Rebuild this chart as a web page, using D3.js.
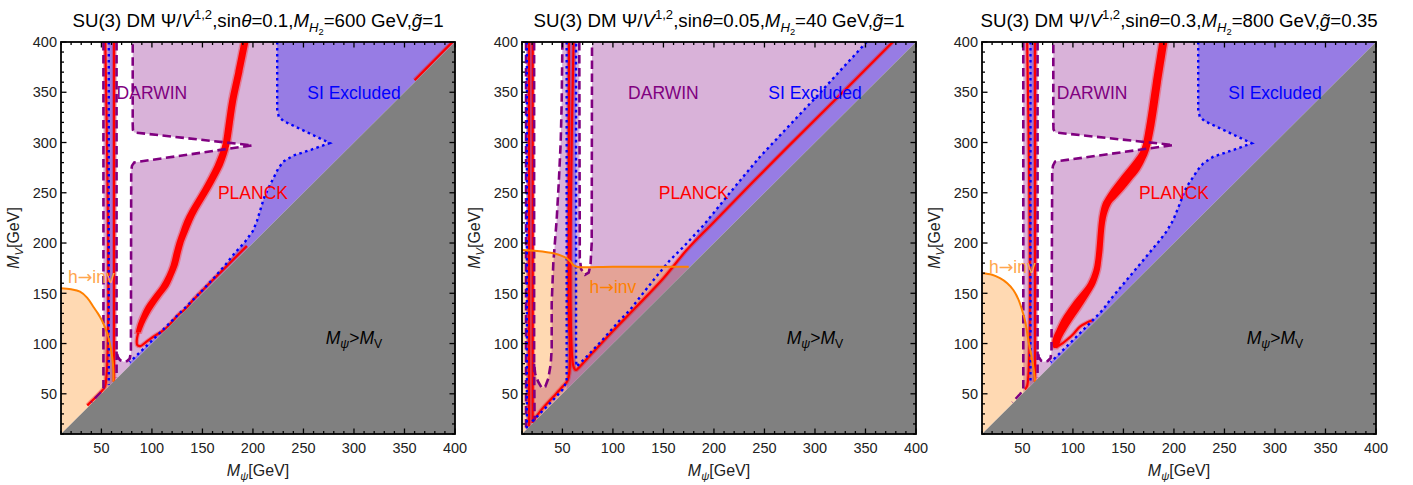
<!DOCTYPE html>
<html>
<head>
<meta charset="utf-8">
<script src="https://cdn.jsdelivr.net/npm/d3@7"></script>
<style>
  body { margin: 0; background: #fff; }
  svg { display: block; }
  text { font-family: "Liberation Sans", Arial, sans-serif; }
</style>
</head>
<body>
<svg id="chart" width="1413" height="485"></svg>
<script>
// ---- data (GeV) ----
const massRange = [10, 400];
const majorTicks = [50, 100, 150, 200, 250, 300, 350, 400];

const sinTheta = ['0.1', '0.05', '0.3'];
const mH2 = ['600', '40', '800'];
const gTilde = ['1', '1', '0.35'];

// panel 1: sin=0.1, MH2=600, g=1
const darwinArea1 = [[52, 400], [52, 10], [400, 10], [400, 400]];
const darwinHole1 = [[65, 400], [65, 92], [66.3, 86.5], [68.5, 83.5], [72, 82], [75.5, 82.6], [78, 85], [79.2, 91], [79.5, 272], [80.3, 277], [82.5, 280.2], [199.3, 297.2], [82.5, 310], [81.2, 312.5], [81, 318], [81, 400]];
const darwinStrip1 = [[[52, 400], [52, 56], [49, 51], [40, 41.5]], [[65, 92], [65, 66]]];
const siEdge1 = [[224, 400], [224, 333], [225.5, 326], [230, 321.5], [276, 299.5], [258, 293], [240, 287], [230, 281], [225, 274], [220, 264], [215, 254], [211, 245], [207, 232], [204, 222], [200, 212], [192, 201], [182, 190], [172, 177.5], [162, 166], [150, 153], [140, 142.8], [120, 122.8], [100, 102.8], [78, 81.5]];
const siStrip1 = [[56.8, 400], [56.8, 10], [62.5, 10], [62.5, 400]];
const siStripEdge1 = [[57.3, 400], [57.3, 59]];
// PLANCK band: [left edge, right edge, MV]
const planckBand1 = [[188.5, 195.5, 400], [182.5, 189.5, 370], [176.5, 183.5, 342], [172.5, 179.5, 315], [170, 177, 299], [166.5, 174, 288], [162, 170, 277], [156.5, 164.5, 266], [150, 158, 254], [143.5, 151.5, 243], [137, 145, 232], [132, 140, 222], [128, 135.5, 211], [124.5, 131.5, 201], [121.5, 128.5, 190], [118.5, 125.5, 178], [114.5, 121.5, 168], [108.5, 116.5, 157], [101, 109, 147], [94, 102, 137], [89.5, 96.5, 128], [86, 92, 119], [84, 89, 111]];
const planckThin1 = [
  [[86.5, 111], [85, 103], [85.5, 98.5], [88.5, 97.5], [93, 100.5], [101, 106.5], [109, 111.5], [116, 117], [122, 124], [127, 129.5], [133, 134], [140, 142.5], [155, 158], [170, 173], [185, 188], [194, 197]],
  [[360, 362], [380, 382.3], [400, 402.5]],
  [[53.8, 400], [53.8, 58], [51, 53.5], [36, 38.5]],
  [[62.5, 400], [62.5, 62]]
];
const hinv1 = [[10, 155], [20, 154], [28.8, 151.6], [36, 145.5], [42, 136.6], [46.5, 130], [50.3, 123.4], [54, 115], [56.8, 106.8], [58.8, 98], [60.2, 90.3], [61.2, 82], [61.8, 73.7], [62, 62]];
const labels1 = [[100, 350], [300, 350], [200, 250], [40, 160], [300, 100]];

// panel 2: sin=0.05, MH2=40, g=1
const darwinArea2 = [[14, 400], [14, 10], [400, 10], [400, 400]];
const darwinGapA2 = [[22, 400], [22, 80], [23, 70], [26, 62], [29.5, 56], [33, 57], [36, 65], [38.5, 80], [39.4, 95], [39.4, 140], [41, 180], [44.3, 223], [46.5, 262], [48.3, 300], [49.3, 340], [50, 400]];
const darwinGapB2 = [[66.7, 400], [67.2, 185], [68.5, 174], [72.4, 168.5], [76, 170.5], [77.8, 178], [79, 200], [79.3, 400]];
const darwinStrip2 = [[[14, 400], [14, 12]], [[22, 80], [22.5, 20]]];
const siEdge2 = [[351.2, 400], [330, 377], [300, 344], [270, 312], [245.6, 285.9], [229, 266], [212.6, 246], [190, 218], [169.7, 196.1], [156.5, 183], [140, 163], [116.9, 133.4], [107, 123.4], [90, 104], [75, 88], [67.4, 80.3], [64, 77], [63.5, 85], [63.5, 400]];
const siArea2 = [[54.2, 400], [54.2, 10], [400, 10], [400, 400], [351.2, 400], [330, 377], [300, 344], [270, 312], [245.6, 285.9], [229, 266], [212.6, 246], [190, 218], [173, 193], [150, 165], [122.7, 136], [100, 112.5], [80, 91], [66, 75.8], [63.5, 73.7], [63.5, 400]];
const siStrip2 = [[14.8, 400], [14.8, 10], [20.5, 10], [20.5, 400]];
const siStripEdge2 = [[[14.8, 400], [14.8, 15]], [[54.2, 400], [54.2, 62], [50, 54], [40, 43], [25, 27.5], [18, 20.5]]];
const planckThin2 = [
  [[17, 400], [17, 17.5]],
  [[20.6, 400], [20.6, 21]],
  [[56.5, 400], [56, 150], [55.5, 64], [50, 57], [41, 47], [30, 35], [21, 23]],
  [[61, 400], [61, 77], [63.5, 73.7], [66, 75.8], [80, 91], [100, 112.5], [122.7, 136], [150, 165], [173, 193], [200, 221], [260, 282.5], [320, 342.5], [376, 399], [380, 403]]
];
const hinv2 = [[10, 193], [25, 192], [41, 189.8], [50, 187], [54.2, 184.8], [58, 181.5], [60.8, 178.1], [64.1, 176.4], [100, 176.4], [175, 176.4]];
const labels2 = [[150, 350], [300, 350], [180, 250], [100, 150], [300, 100]];

// panel 3: sin=0.3, MH2=800, g=0.35
const darwinArea3 = [[50.9, 400], [50.9, 10], [400, 10], [400, 400]];
const darwinHole3 = [[65, 400], [65, 92], [66.3, 86.5], [68.5, 83], [71, 82], [75, 82.6], [77.8, 85.5], [78.8, 92], [79.5, 272], [80.3, 277], [82.3, 281], [199.3, 297.5], [82.5, 310], [80.8, 313], [80.6, 318], [80.6, 400]];
const darwinStrip3 = [[[50.9, 400], [50.9, 55], [48, 50], [40, 41.5]], [[65, 92], [65, 66]]];
const siEdge3 = [[224, 400], [224, 333], [225.5, 326], [230, 321.5], [277, 299.2], [258.7, 292.6], [239, 285.9], [229, 279.3], [223, 272], [219.2, 266], [212.6, 256], [209, 248], [206, 239.5], [199.3, 222.9], [193, 212], [186.2, 203], [169.7, 183], [153.2, 163.2], [136.7, 143.3], [130, 134], [120, 123.5], [100, 103.2], [78, 81.5]];
const siStrip3 = [[57.5, 400], [57.5, 10], [62.5, 10], [62.5, 400]];
const siStripEdge3 = [[58, 400], [58, 60]];
const planckBand3 = [[185.5, 193.5, 400], [179, 187, 359], [172.5, 180.5, 316], [167.5, 175.5, 293], [160.5, 171, 282], [153, 166, 272.7], [144.5, 157.5, 262], [137.5, 150, 252.7], [132.5, 143, 245], [129.5, 138, 239.5], [127, 134, 230], [125.5, 131.7, 219.6], [124.2, 130.2, 205], [123.2, 129.3, 193], [122, 128, 182], [120.3, 126.7, 173.2], [115, 122.5, 160], [107.5, 117, 150], [101, 112, 142], [94, 105.5, 132], [88.5, 99.5, 123.4], [84, 93.5, 114], [80.5, 89, 106], [79.5, 86.5, 99], [81, 84.5, 95.5]];
const planckThin3 = [
  [[83, 97], [86, 98], [90, 100.5], [95, 104.5], [100, 109], [107, 116.8], [114, 121], [120.2, 123.4]],
  [[54.7, 400], [54.7, 58], [52.5, 54.5]],
  [[62.5, 400], [62.5, 62]]
];
const hinv3 = [[10, 170], [20, 168.5], [27.8, 165], [35, 160], [41, 153.3], [46, 144], [49.5, 134], [53, 121], [55.8, 103.5], [58.5, 90], [60.8, 77], [62.5, 63.7], [63, 60]];
const labels3 = [[119, 350], [300, 350], [200, 250], [40, 170], [300, 100]];

// ---- panels built from the arrays above ----
const panels = [
  {
    darwinArea: darwinArea1, darwinHoles: [darwinHole1], darwinEdges: [darwinHole1].concat(darwinStrip1),
    siAreas: [siEdge1.concat([[78, 10], [400, 10], [400, 400]]), siStrip1], siEdges: [siEdge1, siStripEdge1],
    band: planckBand1, thin: planckThin1,
    hinv: hinv1, hinvClose: [[62, 10], [10, 10]], labels: labels1, hinvColor: '#ffa64d'
  },
  {
    darwinArea: darwinArea2, darwinHoles: [darwinGapA2, darwinGapB2], darwinEdges: [darwinGapA2, darwinGapB2].concat(darwinStrip2),
    siAreas: [siArea2, siStrip2], siEdges: [siEdge2].concat(siStripEdge2),
    band: null, thin: planckThin2,
    hinv: hinv2, hinvClose: [[175, 10], [10, 10]], labels: labels2, hinvColor: '#ff8000'
  },
  {
    darwinArea: darwinArea3, darwinHoles: [darwinHole3], darwinEdges: [darwinHole3].concat(darwinStrip3),
    siAreas: [siEdge3.concat([[78, 10], [400, 10], [400, 400]]), siStrip3], siEdges: [siEdge3, siStripEdge3],
    band: planckBand3, thin: planckThin3,
    hinv: hinv3, hinvClose: [[63, 10], [10, 10]], labels: labels3, hinvColor: '#ffa64d'
  }
];

// ---- drawing ----
const svg = d3.select('#chart');
const panelLeft = [61, 522, 982];
const W = 394, H = 392, TOP = 42;

// rich text: parts with italic / shift / scale
function rich(sel, parts, size) {
  let prev = 0;
  parts.forEach(p => {
    const sh = p.sh || 0;
    const ts = sel.append('tspan')
      .attr('dy', ((sh - prev) * size).toFixed(2))
      .style('font-size', (size * (p.sc || 1)) + 'px')
      .style('font-style', p.i ? 'italic' : 'normal')
      .text(p.t);
    if (p.f) ts.style('font-family', p.f);
    prev = sh;
  });
  return sel;
}

panels.forEach((p, i) => {
  const x0 = panelLeft[i];
  const x = d3.scaleLinear().domain(massRange).range([x0, x0 + W]);
  const y = d3.scaleLinear().domain(massRange).range([TOP + H, TOP]);
  const line = d3.line().x(d => x(d[0])).y(d => y(d[1]));
  const smooth = d3.line().x(d => x(d[0])).y(d => y(d[1])).curve(d3.curveCatmullRom.alpha(0.5));
  const bandArea = d3.area().y(d => y(d[2])).x0(d => x(d[0])).x1(d => x(d[1])).curve(d3.curveCatmullRom.alpha(0.5));

  const g = svg.append('g');
  const clipId = 'upper' + i;
  g.append('clipPath').attr('id', clipId)
    .append('path').attr('d', line([[10, 10], [10, 400], [400, 400]]) + 'Z');

  const upper = g.append('g').attr('clip-path', `url(#${clipId})`);

  // DARWIN reach
  upper.append('path')
    .attr('d', line(p.darwinArea) + 'Z' + p.darwinHoles.map(h => line(h) + 'Z').join(''))
    .attr('fill', '#800080').attr('fill-opacity', 0.3).attr('fill-rule', 'evenodd');

  // SI excluded
  p.siAreas.forEach(a => {
    upper.append('path').attr('d', line(a) + 'Z')
      .attr('fill', '#0000ff').attr('fill-opacity', 0.3);
  });

  // h -> inv
  upper.append('path').attr('d', smooth(p.hinv) + line(p.hinvClose).replace('M', 'L') + 'Z')
    .attr('fill', '#ff8000').attr('fill-opacity', 0.3);

  // gray forbidden triangle
  g.append('path').attr('d', line([[10, 10], [400, 400], [400, 10]]) + 'Z').attr('fill', '#808080');

  const lines = g.append('g').attr('clip-path', `url(#${clipId})`).attr('fill', 'none');

  // PLANCK
  if (p.band) {
    lines.append('path').attr('d', bandArea(p.band)).attr('fill', '#ff0000')
      .attr('stroke', '#ff0000').attr('stroke-opacity', 0.3).attr('stroke-width', 3);
  }
  p.thin.forEach(t => {
    lines.append('path').attr('d', smooth(t)).attr('stroke', '#ff0000').attr('stroke-opacity', 0.3)
      .attr('stroke-width', 4.5);
    lines.append('path').attr('d', smooth(t)).attr('stroke', '#ff0000')
      .attr('stroke-width', 2.2).attr('stroke-linejoin', 'round');
  });

  // DARWIN boundaries
  p.darwinEdges.forEach(e => {
    lines.append('path').attr('d', line(e)).attr('stroke', '#800080')
      .attr('stroke-width', 2.6).attr('stroke-dasharray', '8.5,4.5');
  });

  // SI boundaries
  p.siEdges.forEach(e => {
    lines.append('path').attr('d', line(e)).attr('stroke', '#0000ff')
      .attr('stroke-width', 2.4).attr('stroke-dasharray', '2.6,3.4');
  });

  // h -> inv boundary
  lines.append('path').attr('d', smooth(p.hinv)).attr('stroke', '#ff8000').attr('stroke-width', 2);

  // region labels
  const lab = p.labels;
  const lbl = (pos, color) => g.append('text').attr('x', x(pos[0])).attr('y', y(pos[1]))
    .attr('dy', '0.36em').attr('text-anchor', 'middle').attr('fill', color).style('font-size', '17.5px');
  lbl(lab[0], '#800080').text('DARWIN');
  lbl(lab[1], '#0000ff').text('SI Excluded');
  lbl(lab[2], '#ff0000').text('PLANCK');
  rich(lbl(lab[3], p.hinvColor), [{ t: 'h' }, { t: '→', f: 'DejaVu Sans' }, { t: 'inv' }], 17.5);
  rich(lbl(lab[4], '#000'), [
    { t: 'M', i: 1 }, { t: 'ψ', i: 1, sh: 0.28, sc: 0.7 }, { t: '>' }, { t: 'M', i: 1 }, { t: 'V', sh: 0.28, sc: 0.7 }
  ], 17.5);

  // frame and ticks
  g.append('rect').attr('x', x0).attr('y', TOP).attr('width', W).attr('height', H)
    .attr('fill', 'none').attr('stroke', '#000').attr('stroke-width', 1.8);

  const minor = x.ticks(39).filter(t => majorTicks.indexOf(t) < 0);
  const tk = g.append('g').attr('stroke', '#000').attr('stroke-width', 1.3);
  [[majorTicks, 5.5], [minor, 3]].forEach(([ts, len]) => {
    ts.forEach(t => {
      tk.append('line').attr('x1', x(t)).attr('x2', x(t)).attr('y1', TOP + H).attr('y2', TOP + H - len);
      tk.append('line').attr('x1', x(t)).attr('x2', x(t)).attr('y1', TOP).attr('y2', TOP + len);
      tk.append('line').attr('y1', y(t)).attr('y2', y(t)).attr('x1', x0).attr('x2', x0 + len);
      tk.append('line').attr('y1', y(t)).attr('y2', y(t)).attr('x1', x0 + W).attr('x2', x0 + W - len);
    });
  });

  majorTicks.forEach(t => {
    g.append('text').attr('x', x(t)).attr('y', TOP + H + 18.5).attr('text-anchor', 'middle')
      .attr('fill', '#222').style('font-size', '14.5px').text(t);
    g.append('text').attr('x', x0 - 4).attr('y', y(t)).attr('dy', '0.36em').attr('text-anchor', 'end')
      .attr('fill', '#222').style('font-size', '14.5px').text(t);
  });

  // axis titles
  rich(g.append('text').attr('x', x0 + W / 2).attr('y', 476).attr('text-anchor', 'middle').attr('fill', '#222'), [
    { t: 'M', i: 1 }, { t: 'ψ', i: 1, sh: 0.28, sc: 0.7 }, { t: '[GeV]' }
  ], 16);
  rich(g.append('text').attr('transform', `translate(${x0 - 42},${TOP + H / 2}) rotate(-90)`)
    .attr('text-anchor', 'middle').attr('fill', '#222'), [
    { t: 'M', i: 1 }, { t: 'V', i: 1, sh: 0.28, sc: 0.7 }, { t: '[GeV]' }
  ], 16);

  // panel title
  rich(g.append('text').attr('x', x0 + W / 2).attr('y', 27).attr('text-anchor', 'middle').attr('fill', '#000'), [
    { t: 'SU(3) DM Ψ/' }, { t: 'V', i: 1 }, { t: '1,2', sh: -0.42, sc: 0.7 }, { t: ',sin' }, { t: 'θ', i: 1 },
    { t: '=' + sinTheta[i] + ',' }, { t: 'M', i: 1 }, { t: 'H', i: 1, sh: 0.28, sc: 0.7 }, { t: '2', sh: 0.45, sc: 0.5 },
    { t: '=' + mH2[i] + ' GeV,' }, { t: 'g̃', i: 1 }, { t: '=' + gTilde[i] }
  ], 18.7);
});
</script>
</body>
</html>
